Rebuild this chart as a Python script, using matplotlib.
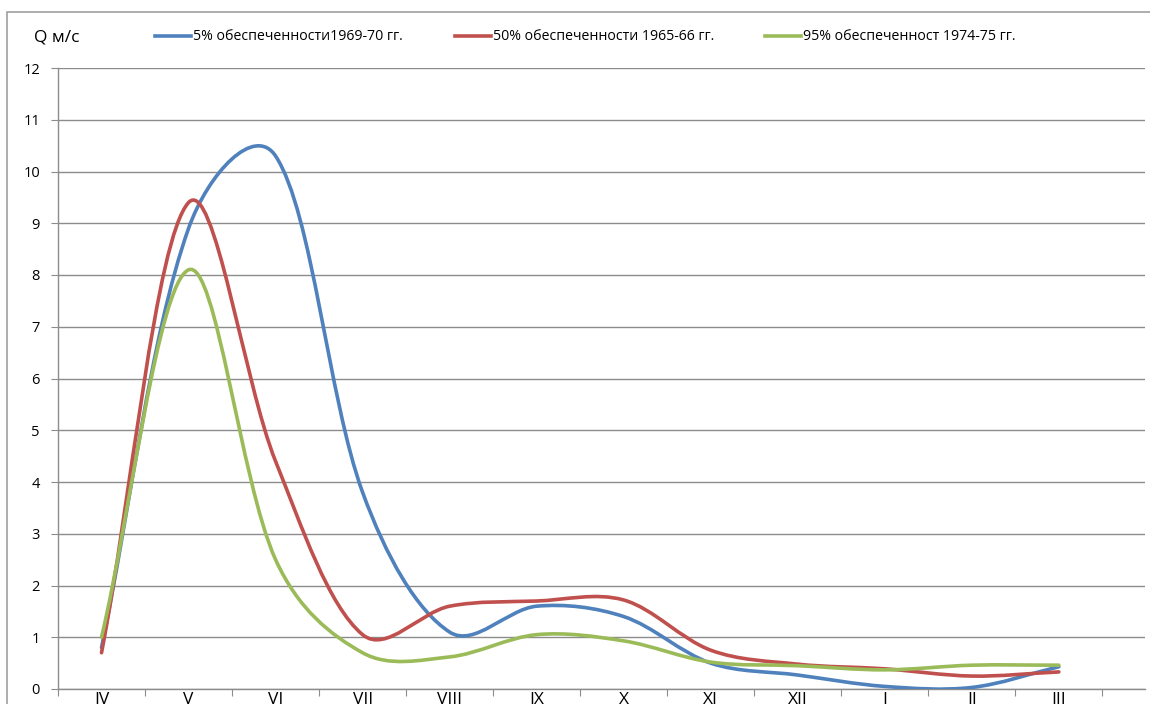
import matplotlib
matplotlib.use("Agg")
import matplotlib.pyplot as plt
from matplotlib.path import Path
from matplotlib.patches import PathPatch, Rectangle
from matplotlib.lines import Line2D
import numpy as np

months = ['IV', 'V', 'VI', 'VII', 'VIII', 'IX', 'X', 'XI', 'XII', 'I', 'II', 'III']
q5 = [0.8, 8.9, 10.3, 3.8, 1.1, 1.6, 1.4, 0.5, 0.27, 0.05, 0.03, 0.43]
q50 = [0.7, 9.4, 4.4, 1.05, 1.6, 1.7, 1.72, 0.75, 0.48, 0.39, 0.25, 0.33]
q95 = [1.0, 8.1, 2.5, 0.7, 0.62, 1.05, 0.93, 0.52, 0.45, 0.37, 0.46, 0.46]
labels = ['5% обеспеченности1969-70 гг.', '50% обеспеченности 1965-66 гг.', '95% обеспеченност 1974-75 гг.']
colors = ['#4F81BD', '#C0504D', '#9BBB59']
yticks = list(range(0, 13))

FONT = ['Open Sans', 'DejaVu Sans']
plt.rcParams['font.family'] = FONT

W, H = 1150, 704
fig = plt.figure(figsize=(W / 100, H / 100), dpi=100)

# chart border
fig.patches.append(Rectangle((7 / W, -0.1), 1.2, (H - 12) / H + 0.1, transform=fig.transFigure,
                             fill=False, edgecolor='#A0A0A0', linewidth=1.2))

left, right, top, bottom = 58, 1145, 68, 689
ax = fig.add_axes([left / W, (H - bottom) / H, (right - left) / W, (bottom - top) / H])
ax.set_xlim(-0.5, 11.99)
ax.set_ylim(0, 12)


def smooth_path(ax, xs, ys):
    """Smoothed line: Bezier segments with length-weighted tangents in screen space."""
    data = np.column_stack([xs, ys]).astype(float)
    pts = ax.transData.transform(data)
    n = len(pts)
    verts = [pts[0]]
    codes = [Path.MOVETO]
    for i in range(n - 1):
        p0 = pts[i - 1] if i > 0 else pts[i]
        p1 = pts[i]
        p2 = pts[i + 1]
        p3 = pts[i + 2] if i + 2 < n else pts[i + 1]
        d01 = np.sqrt(np.hypot(*(p1 - p0)))
        d12 = np.sqrt(np.hypot(*(p2 - p1)))
        d23 = np.sqrt(np.hypot(*(p3 - p2)))
        f1 = d12 / (d01 + d12) if d01 + d12 > 0 else 0.5
        f2 = d12 / (d12 + d23) if d12 + d23 > 0 else 0.5
        c1 = p1 + (p2 - p0) * f1 / 3.0
        c2 = p2 - (p3 - p1) * f2 / 3.0
        verts += [c1, c2, p2]
        codes += [Path.CURVE4] * 3
    verts = ax.transData.inverted().transform(np.array(verts))
    return Path(verts, codes)


x = np.arange(len(months))
for ys, c in zip([q5, q50, q95], colors):
    patch = PathPatch(smooth_path(ax, x, ys), facecolor='none', edgecolor=c, linewidth=2.6,
                      capstyle='round', joinstyle='round', zorder=3)
    ax.add_patch(patch)

ax.set_yticks(yticks)
ax.set_yticklabels([str(v) for v in yticks], fontsize=10.5)
ax.yaxis.grid(True, color='#8C8C8C', linewidth=1.0)
ax.set_axisbelow(True)

ax.set_xticks(np.arange(-0.5, 12, 1.0))
ax.set_xticklabels([])
ax.set_xticks(x, minor=True)
ax.set_xticklabels(months, minor=True, fontsize=12.5)
ax.tick_params(axis='x', which='minor', length=0, pad=2)
ax.tick_params(axis='x', which='major', length=5, color='#8C8C8C', direction='out')
ax.tick_params(axis='y', length=5, color='#8C8C8C', direction='out', pad=8)

for s in ['top', 'right']:
    ax.spines[s].set_visible(False)
for s in ['left', 'bottom']:
    ax.spines[s].set_color('#8C8C8C')
    ax.spines[s].set_linewidth(1.0)

# title and legend
fig.text(34 / W, 1 - 37 / H, 'Q м/с', fontsize=12.5, va='center', ha='left')
leg_x = [155, 455, 765]
for lx, lab, c in zip(leg_x, labels, colors):
    fig.add_artist(Line2D([lx / W, (lx + 36) / W], [1 - 36 / H, 1 - 36 / H], color=c, linewidth=2.6,
                          transform=fig.transFigure))
    fig.text((lx + 38) / W, 1 - 36 / H, lab, fontsize=10.2, va='center', ha='left')

fig.savefig('out.png', dpi=100)
